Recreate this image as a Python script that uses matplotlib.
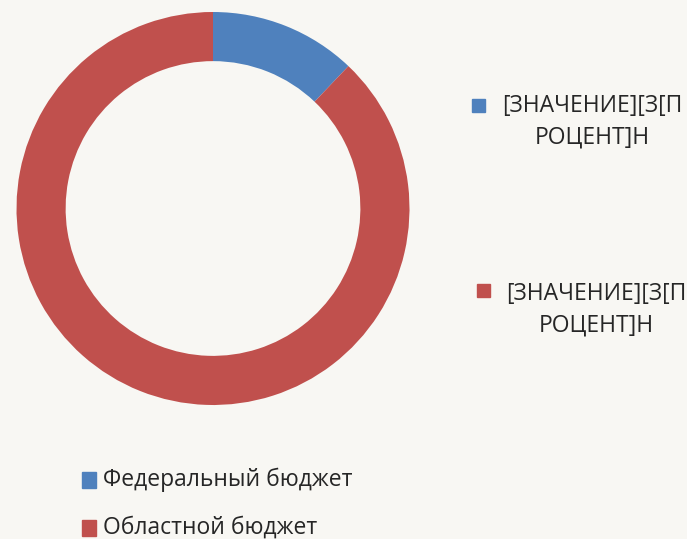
import matplotlib.pyplot as plt
from matplotlib.patches import Rectangle

# data
categories = ['Федеральный бюджет', 'Областной бюджет']
values = [12.1, 87.9]
colors = ['#4F81BD', '#C0504D']
point_labels = ['[ЗНАЧЕНИЕ][З[П\nРОЦЕНТ]Н', '[ЗНАЧЕНИЕ][З[П\nРОЦЕНТ]Н']

W, H = 687, 539
bg = '#f8f7f3'
plt.rcParams['font.family'] = ['Open Sans', 'DejaVu Sans']

fig = plt.figure(figsize=(W / 100, H / 100), dpi=100, facecolor=bg)

# donut: center (213, 208.5) px, radius 196.5 px
cx, cy, R = 213, 208.5, 196.5
ax = fig.add_axes([(cx - R) / W, (H - cy - R) / H, 2 * R / W, 2 * R / H])
ax.set_facecolor(bg)
ax.pie(values, colors=colors, startangle=90, counterclock=False, radius=1,
       wedgeprops=dict(width=0.25, edgecolor='none'))
ax.set_xlim(-1, 1)
ax.set_ylim(-1, 1)
ax.set_aspect('equal')
ax.axis('off')


def px(x, y):
    return x / W, 1 - y / H


# data labels, placed to the right: (marker x, marker y, text center x, text center y)
label_pos = [(478.5, 105, 592, 121.5), (483.5, 290, 596, 309.5)]
for (mx, my, tx, ty), lab, c in zip(label_pos, point_labels, colors):
    fig.patches.append(Rectangle(px(mx - 6.5, my + 6.5), 13 / W, 13 / H,
                                 transform=fig.transFigure, color=c))
    fig.text(*px(tx, ty), lab, ha='center', va='center', fontsize=16.5,
             color='#262626', linespacing=1.42)

# legend at the bottom
leg_pos = [480, 528]
for y, name, c in zip(leg_pos, categories, colors):
    fig.patches.append(Rectangle(px(82, y + 8), 14 / W, 16 / H,
                                 transform=fig.transFigure, color=c))
    fig.text(*px(103, y), name, ha='left', va='center', fontsize=16.5,
             color='#262626')

fig.savefig('out.png', dpi=100, facecolor=bg)
